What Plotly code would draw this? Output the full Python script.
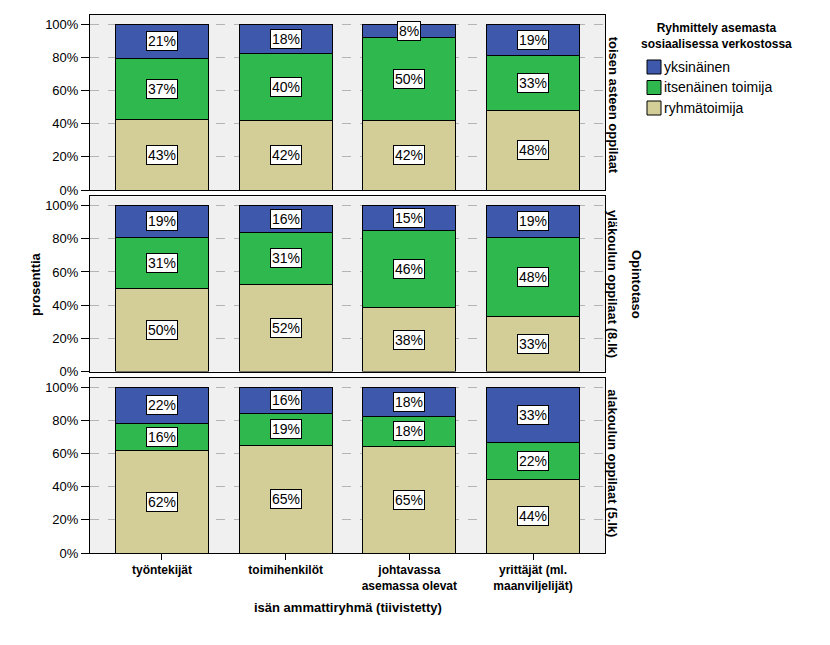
import plotly.graph_objects as go
from plotly.subplots import make_subplots

categories = ["työntekijät", "toimihenkilöt", "johtavassa<br>asemassa olevat", "yrittäjät (ml.<br>maanviljelijät)"]
panels = ["toisen asteen oppilaat", "yläkoulun oppilaat (8.lk)", "alakoulun oppilaat (5.lk)"]
series_names = ["ryhmätoimija", "itsenäinen toimija", "yksinäinen"]

# values per panel (percent labels as shown)
ryhma = [[43, 42, 42, 48], [50, 52, 38, 33], [62, 65, 65, 44]]
itsenainen = [[37, 40, 50, 33], [31, 31, 46, 48], [16, 19, 18, 22]]
yksinainen = [[21, 18, 8, 19], [19, 16, 15, 19], [22, 16, 18, 33]]

colors = {"ryhmätoimija": "#D3CE97", "itsenäinen toimija": "#2EB84E", "yksinäinen": "#3E58AC"}

OFF = 8  # page body margin
W, H = 830 - OFF, 645 - OFF
L, R, T, B = 90, 605, 15, 553  # page pixel positions of plot area

fig = make_subplots(rows=3, cols=1, shared_xaxes=True, vertical_spacing=0.012)

FONT = "Liberation Sans, Arial, sans-serif"
annotations = []


def px(x):
    return (x - L) / (R - L)


def py(y):
    return (B - y) / (B - T)


for p in range(3):
    raw = [ryhma[p], itsenainen[p], yksinainen[p]]
    totals = [sum(raw[s][c] for s in range(3)) for c in range(4)]
    base = [0.0] * 4
    for s, name in enumerate(series_names):
        h = [raw[s][c] / totals[c] * 100 for c in range(4)]
        fig.add_trace(go.Bar(x=categories, y=h, name=name,
                             marker=dict(color=colors[name], line=dict(color="black", width=1)),
                             width=0.75, showlegend=False, hoverinfo="skip"), row=p + 1, col=1)
        yref = "y" if p == 0 else f"y{p+1}"
        for c in range(4):
            annotations.append(dict(x=categories[c], y=base[c] + h[c] / 2, xref="x" if p == 0 else f"x{p+1}",
                                    yref=yref, xanchor="center", yanchor="middle",
                                    text=f"{raw[s][c]}%", showarrow=False, bgcolor="white", bordercolor="black",
                                    borderwidth=1, borderpad=1, font=dict(family=FONT, size=14, color="black")))
            base[c] += h[c]
    yc = 1 - (p + 0.5) / 3
    annotations.append(dict(x=px(613), y=yc, xref="paper", yref="paper", text=f"<b>{panels[p]}</b>",
                            xanchor="center", yanchor="middle",
                            textangle=90, showarrow=False, font=dict(family=FONT, size=13, color="black")))

annotations.append(dict(x=px(637), y=0.5, xref="paper", yref="paper", text="<b>Opintotaso</b>", textangle=90,
                        xanchor="center", yanchor="middle",
                        showarrow=False, font=dict(family=FONT, size=13, color="black")))
annotations.append(dict(x=px(35), y=0.5, xref="paper", yref="paper", text="<b>prosenttia</b>", textangle=-90,
                        xanchor="center", yanchor="middle",
                        showarrow=False, font=dict(family=FONT, size=13, color="black")))
annotations.append(dict(x=0.5, y=py(607), xref="paper", yref="paper", text="<b>isän ammattiryhmä (tiivistetty)</b>",
                        xanchor="center", yanchor="middle",
                        showarrow=False, font=dict(family=FONT, size=13, color="black")))
annotations.append(dict(x=px(716), y=py(36), xref="paper", yref="paper",
                        text="<b>Ryhmittely asemasta<br>sosiaalisessa verkostossa</b>", align="center",
                        xanchor="center", yanchor="middle",
                        showarrow=False, font=dict(family=FONT, size=12, color="black")))

shapes = []
legend_items = ["yksinäinen", "itsenäinen toimija", "ryhmätoimija"]
for i, name in enumerate(legend_items):
    yc = 67 + i * 20.5
    shapes.append(dict(type="rect", xref="paper", yref="paper", x0=px(647), x1=px(661), y0=py(yc + 7), y1=py(yc - 7),
                       fillcolor=colors[name], line=dict(color="black", width=1)))
    annotations.append(dict(x=px(662), y=py(yc), xref="paper", yref="paper", text=name, xanchor="left",
                            yanchor="middle",
                            showarrow=False, font=dict(family=FONT, size=14, color="black")))

fig.update_layout(
    width=W, height=H,
    margin=dict(l=L - OFF, r=W - (R - OFF), t=T - OFF, b=H - (B - OFF), pad=0),
    barmode="stack", plot_bgcolor="#F0F0F0", paper_bgcolor="white",
    annotations=annotations, shapes=shapes, showlegend=False,
    font=dict(family=FONT, size=12, color="black"),
)
for r in range(1, 4):
    fig.update_yaxes(range=[0, 105.5], tickvals=[0, 20, 40, 60, 80, 100],
                     ticktext=["0%", "20%", "40%", "60%", "80%", "100%"],
                     showgrid=True, gridcolor="#B4B4B4", griddash="dash", gridwidth=1,
                     showline=True, linecolor="black", mirror=True, ticks="outside", ticklen=8,
                     tickcolor="black", zeroline=False, automargin=False,
                     tickfont=dict(family=FONT, size=13, color="black"),
                     row=r, col=1)
    fig.update_xaxes(type="category", range=[-0.582, 3.582], showline=True, linecolor="black", mirror=True,
                     showgrid=False, ticks="outside" if r == 3 else "", ticklen=6, tickcolor="black",
                     showticklabels=(r == 3), automargin=False,
                     tickfont=dict(family=FONT, size=12, color="black"),
                     row=r, col=1)
fig.update_xaxes(tickprefix="<b>", ticksuffix="</b>", row=3, col=1)

fig.write_html("out.html")
